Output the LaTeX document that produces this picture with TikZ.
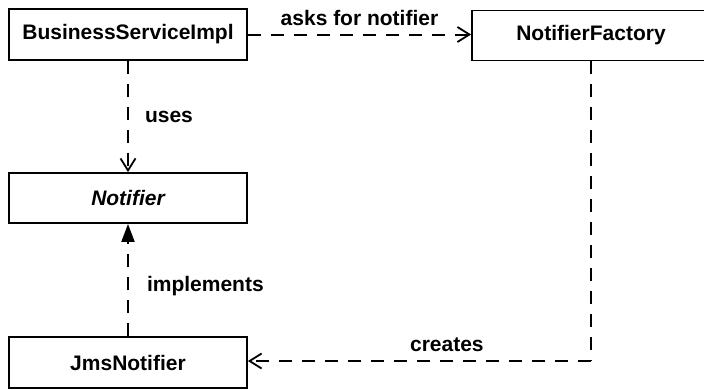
\documentclass[tikz,border=0pt]{standalone}
\usepackage{fontspec}
\setmainfont{Liberation Sans}
\usetikzlibrary{arrows.meta}
\begin{document}
\begin{tikzpicture}[x=1pt,y=-1pt,
  cls/.style={draw,line width=1.8pt,minimum width=238pt,minimum height=51pt,inner sep=0pt,
    font=\fontsize{21}{25}\selectfont\bfseries},
  lbl/.style={font=\fontsize{21}{25}\selectfont\bfseries,inner sep=0pt},
  dsh/.style={line width=2pt,dash pattern=on 13pt off 10pt},
  dep/.style={dsh,-{Straight Barb[length=12pt,width=15pt,line width=1.8pt]}},
  real/.style={dsh,-{Triangle[length=18pt,width=13pt]}}]
\clip (0,0) rectangle (704,389);
\fill[white] (0,0) rectangle (704,389);
\node[cls] (bsi) at (128,34.5) {BusinessServiceImpl};
\node[cls,minimum height=50pt] (nf) at (591,35.5) {NotifierFactory};
\node[cls,minimum height=50pt] (n) at (128,198) {\itshape Notifier};
\node[cls] (jms) at (128,362.5) {JmsNotifier};
\coordinate (corner) at (591,361);
\draw[dep] (bsi.east) -- (nf.west|-bsi.east) node[lbl,midway,above=8pt] {asks for notifier};
\draw[dep] (bsi.south) -- (n.north) node[lbl,midway,right=16pt] {uses};
\draw[real] (jms.north) -- (n.south) node[lbl,pos=0.45,right=18pt] {implements};
\draw[dsh] (nf.south) -- (corner);
\draw[dep] (corner) -- (jms.east|-corner) node[lbl,pos=0.42,above=8pt] {creates};
\end{tikzpicture}
\end{document}
